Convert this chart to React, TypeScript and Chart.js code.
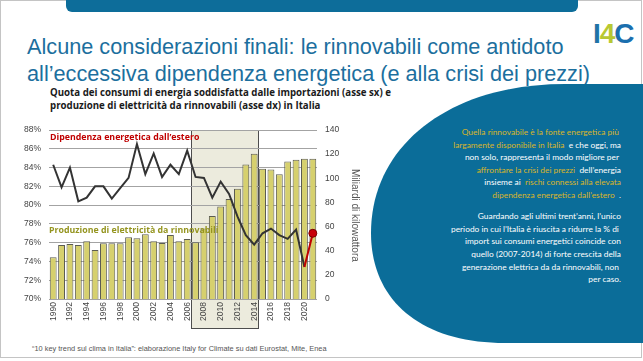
import React, { useEffect, useRef } from 'react';
import { Chart, registerables } from 'chart.js';

Chart.register(...registerables);

// ---- data ----
const years = [
  '1990', '1991', '1992', '1993', '1994', '1995', '1996', '1997', '1998', '1999',
  '2000', '2001', '2002', '2003', '2004', '2005', '2006', '2007', '2008', '2009',
  '2010', '2011', '2012', '2013', '2014', '2015', '2016', '2017', '2018', '2019',
  '2020', '2021',
];
// Dependenza energetica dall'estero (%), left axis
const importDependence = [
  84.3, 81.9, 84.0, 80.4, 80.8, 82.0, 82.0, 80.7, 81.8, 82.9,
  86.5, 83.3, 85.5, 83.0, 84.3, 83.3, 85.8, 83.0, 82.9, 80.8,
  82.5, 81.2, 78.8, 76.8, 75.8, 77.0, 77.5, 76.8, 76.4, 77.4,
  73.4, 77.0,
];
// Produzione di elettricità da rinnovabili (miliardi di kWh), right axis
const renewableTWh = [
  34.5, 44.7, 45.5, 44.7, 47.8, 40.6, 46.1, 46.1, 46.1, 51.1,
  50.3, 53.6, 47.8, 46.4, 53.1, 47.8, 49.7, 47.0, 58.5, 68.8,
  76.7, 82.8, 91.4, 111.5, 120.3, 107.8, 107.2, 103.3, 113.9, 115.3,
  116.1, 116.1,
];
const leftAxisRange = [70, 88, 2];
const rightAxisRange = [0, 140, 20];
const highlightYears = ['2007', '2014'];

const TICK_FONT = { family: 'Liberation Sans, Arial, sans-serif', size: 8.5 };

const highlightPlugin = {
  id: 'highlightBox',
  beforeDraw(chart: any) {
    const { ctx, chartArea, scales } = chart;
    const x = scales.x;
    const w = x.getPixelForValue(1) - x.getPixelForValue(0);
    const i0 = years.indexOf(highlightYears[0]);
    const i1 = years.indexOf(highlightYears[1]);
    const left = Math.round(x.getPixelForValue(i0) - w / 2) + 0.5;
    const right = Math.round(x.getPixelForValue(i1) + w / 2) + 0.5;
    const top = Math.round(chartArea.top) + 0.5;
    const bottom = Math.round(chartArea.bottom + 29) + 0.5;
    ctx.save();
    ctx.fillStyle = '#ecebdd';
    ctx.fillRect(left, top, right - left, bottom - top);
    ctx.strokeStyle = '#4d4d4d';
    ctx.lineWidth = 1;
    ctx.strokeRect(left, top, right - left, bottom - top);
    ctx.restore();
  },
};

function ChartCanvas() {
  const ref = useRef<HTMLCanvasElement | null>(null);
  useEffect(() => {
    if (!ref.current) return;
    const last = importDependence.length - 1;
    const chart = new Chart(ref.current, {
      type: 'bar',
      data: {
        labels: years,
        datasets: [
          {
            type: 'line',
            label: "Dipendenza energetica dall'estero",
            data: importDependence,
            yAxisID: 'y',
            borderColor: '#333333',
            borderWidth: 2,
            tension: 0,
            pointRadius: (c: any) => (c.dataIndex === last ? 4 : 0),
            pointHoverRadius: 0,
            pointBackgroundColor: '#c8000a',
            pointBorderColor: '#7a0000',
            pointBorderWidth: 1,
            segment: {
              borderColor: (c: any) => (c.p1DataIndex === last ? '#c00000' : undefined),
            },
            order: 1,
          } as any,
          {
            type: 'bar',
            label: 'Produzione di elettricità da rinnovabili',
            data: renewableTWh,
            yAxisID: 'y1',
            backgroundColor: '#d6d06e',
            borderColor: '#5c5c52',
            borderWidth: 1,
            barPercentage: 0.82,
            categoryPercentage: 1,
            order: 2,
          } as any,
        ],
      },
      options: {
        responsive: false,
        animation: false,
        devicePixelRatio: 1,
        layout: { padding: { top: 20, left: 0, right: 0, bottom: 0 } },
        plugins: { legend: { display: false }, tooltip: { enabled: false } },
        scales: {
          x: {
            grid: { display: false, drawTicks: false },
            border: { display: false },
            ticks: {
              autoSkip: false,
              minRotation: 90,
              maxRotation: 90,
              padding: 3,
              font: TICK_FONT,
              color: '#444',
              callback: (_v: any, i: number) => (i % 2 === 0 ? years[i] : ''),
            },
            afterFit: (s: any) => { s.height = 36; },
          },
          y: {
            position: 'left',
            min: leftAxisRange[0],
            max: leftAxisRange[1],
            ticks: {
              stepSize: leftAxisRange[2],
              padding: 8,
              font: TICK_FONT,
              color: '#444',
              callback: (v: any) => v + '%',
            },
            grid: { color: '#a3a3a3', lineWidth: 1, drawTicks: false },
            border: { display: false },
            afterFit: (s: any) => { s.width = 49; },
          },
          y1: {
            position: 'right',
            min: rightAxisRange[0],
            max: rightAxisRange[1],
            ticks: {
              stepSize: rightAxisRange[2],
              padding: 8,
              font: TICK_FONT,
              color: '#444',
            },
            grid: { display: false, drawTicks: false },
            border: { display: false },
            afterFit: (s: any) => { s.width = 43; },
          },
        },
      } as any,
      plugins: [highlightPlugin],
    });
    return () => chart.destroy();
  }, []);
  return (
    <canvas
      ref={ref}
      width={360}
      height={225}
      style={{ position: 'absolute', left: 0, top: 110, width: 360, height: 225 }}
    />
  );
}

const GOLD = '#d9b52a';
const rightLines: { top: number; parts: [string, string][] }[] = [
  { top: 126, parts: [['Quella rinnovabile è la fonte energetica più ', GOLD]] },
  { top: 138.5, parts: [['largamente disponibile in Italia', GOLD], ['  e che oggi, ma', '#fff']] },
  { top: 151, parts: [['non solo, rappresenta il modo migliore per ', '#fff']] },
  { top: 164, parts: [['affrontare la crisi dei prezzi', GOLD], ['  dell’energia', '#fff']] },
  { top: 176, parts: [['insieme ai  ', '#fff'], ['rischi connessi alla elevata', GOLD]] },
  { top: 188.5, parts: [['dipendenza energetica dall’estero', GOLD], ['  .', '#fff']] },
  { top: 210, parts: [['Guardando agli ultimi trent’anni, l’unico', '#fff']] },
  { top: 222.5, parts: [['periodo in cui l’Italia è riuscita a ridurre la % di ', '#fff']] },
  { top: 235, parts: [['import sui consumi energetici coincide con', '#fff']] },
  { top: 248, parts: [['quello (2007-2014) di forte crescita della', '#fff']] },
  { top: 260.5, parts: [['generazione elettrica da da rinnovabili, non ', '#fff']] },
  { top: 273, parts: [['per caso.', '#fff']] },
];

export default function App() {
  return (
    <div
      style={{
        position: 'absolute',
        left: 0,
        top: 0,
        width: 643,
        height: 361,
        background: '#fff',
        overflow: 'hidden',
        fontFamily: 'Liberation Sans, Arial, sans-serif',
      }}
    >
      {/* slide frame */}
      <div style={{ position: 'absolute', left: 0, top: 0, width: 640, height: 356, border: '1px solid #c4c4c4' }} />
      {/* top bar */}
      <div
        style={{
          position: 'absolute', left: 66, top: 0, width: 512, height: 12,
          background: '#0d6d9a', borderBottomLeftRadius: 6, borderBottomRightRadius: 6,
        }}
      />
      {/* title */}
      <div
        style={{
          position: 'absolute', left: 27, top: 33, fontSize: 21.7, lineHeight: '27px',
          color: '#1c6f9e', whiteSpace: 'nowrap',
        }}
      >
        <div>Alcune considerazioni finali: le rinnovabili come antidoto</div>
        <div>all’eccessiva dipendenza energetica (e alla crisi dei prezzi)</div>
      </div>
      {/* logo */}
      <div
        style={{
          position: 'absolute', left: 593, top: 17, fontSize: 28, fontWeight: 'bold',
          lineHeight: '34px', letterSpacing: -1, whiteSpace: 'nowrap',
        }}
      >
        <span style={{ color: '#1f74a6' }}>I</span>
        <span style={{ color: '#b8c832' }}>4</span>
        <span style={{ color: '#1b6fae' }}>C</span>
      </div>

      {/* blue shape */}
      <svg width={643} height={361} style={{ position: 'absolute', left: 0, top: 0 }}>
        <path
          d="M 643 84 L 565 84 C 450 84, 371 145, 371 233 C 371 300, 420 343, 505 343 L 643 343 Z"
          fill="#0b6d99"
        />
      </svg>
      {rightLines.map((l, i) => (
        <div
          key={i}
          style={{
            position: 'absolute', right: 22, top: l.top, fontSize: 8.4, lineHeight: '12px',
            whiteSpace: 'pre', fontFamily: 'Lato, sans-serif', textAlign: 'right',
          }}
        >
          {l.parts.map((p, j) => (
            <span key={j} style={{ color: p[1] }}>{p[0]}</span>
          ))}
        </div>
      ))}

      {/* chart title */}
      <div
        style={{
          position: 'absolute', left: 50, top: 87, fontSize: 9.7, lineHeight: '12.5px',
          fontWeight: 'bold', color: '#1a1a1a', fontFamily: 'Open Sans, sans-serif', whiteSpace: 'nowrap',
        }}
      >
        <div>Quota dei consumi di energia soddisfatta dalle importazioni (asse sx) e</div>
        <div>produzione di elettricità da rinnovabili (asse dx) in Italia</div>
      </div>

      <ChartCanvas />

      {/* in-chart labels */}
      <div
        style={{
          position: 'absolute', left: 50, top: 131, fontSize: 8.8, lineHeight: '13px', fontWeight: 'bold',
          color: '#c00000', fontFamily: 'Open Sans, sans-serif', whiteSpace: 'nowrap',
        }}
      >
        Dipendenza energetica dall’estero
      </div>
      <div
        style={{
          position: 'absolute', left: 49, top: 223.5, fontSize: 8.8, lineHeight: '13px', fontWeight: 'bold',
          color: '#959520', fontFamily: 'Open Sans, sans-serif', whiteSpace: 'nowrap',
        }}
      >
        Produzione di elettricità da rinnovabili
      </div>
      {/* right axis title */}
      <div
        style={{
          position: 'absolute', left: 348, top: 160, height: 110, writingMode: 'vertical-rl',
          fontSize: 10, color: '#555', whiteSpace: 'nowrap', textAlign: 'center', lineHeight: '14px',
        }}
      >
        Miliardi di kilowattora
      </div>

      {/* footnote */}
      <div
        style={{
          position: 'absolute', left: 32, top: 344, fontSize: 7.4, lineHeight: '9px', color: '#555',
          whiteSpace: 'nowrap',
        }}
      >
        “10 key trend sul clima in Italia”: elaborazione Italy for Climate su dati Eurostat, Mite, Enea
      </div>
    </div>
  );
}
